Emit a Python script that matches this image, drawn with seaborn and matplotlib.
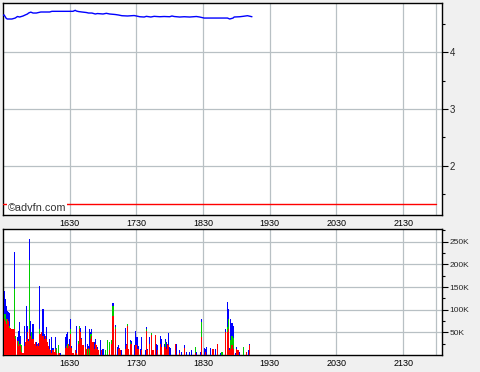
import numpy as np
import pandas as pd
import matplotlib
matplotlib.use("Agg")
import matplotlib.pyplot as plt
import seaborn as sns

# ---- data (time axis in minutes after 15:30) ----
tick_minutes = [60, 120, 180, 240, 300, 360]
tick_labels = ["1630", "1730", "1830", "1930", "2030", "2130"]
session_close = 390  # 22:00

price_minute = [0, 1, 3, 4, 8, 11, 13, 15, 18, 20, 22, 23, 25, 27, 30, 32, 34, 42, 44,
                60, 63, 65, 66, 68, 71, 75, 77, 80, 83, 85, 90, 93, 96, 101, 104, 107,
                112, 118, 120, 123, 127, 129, 133, 136, 141, 145, 150, 152, 154, 159,
                163, 168, 174, 177, 181, 190, 202, 204, 207, 208, 213, 216, 220, 224]
price_value = [4.644, 4.650, 4.588, 4.579, 4.579, 4.596, 4.623, 4.614, 4.632, 4.650,
               4.667, 4.684, 4.700, 4.684, 4.684, 4.693, 4.702, 4.702, 4.714,
               4.714, 4.714, 4.732, 4.719, 4.710, 4.702, 4.693, 4.684, 4.684, 4.667,
               4.675, 4.667, 4.679, 4.667, 4.658, 4.649, 4.637, 4.632, 4.640, 4.632,
               4.619, 4.614, 4.626, 4.614, 4.626, 4.619, 4.623, 4.619, 4.632, 4.623,
               4.614, 4.619, 4.614, 4.623, 4.614, 4.596, 4.596, 4.596, 4.579, 4.596,
               4.614, 4.619, 4.626, 4.637, 4.619]
ref_level = 1.33

vol_minute = [1, 2, 3, 4, 5, 6, 7, 8, 9, 10, 11, 13, 14, 15, 16, 17, 18, 19, 20, 21,
              22, 23, 24, 25, 26, 27, 28, 29, 30, 31, 32, 33, 34, 35, 36, 37, 38, 39,
              40, 41, 42, 43, 44, 45, 46, 47, 48, 50, 51, 52, 56, 57, 58, 59, 60, 61,
              62, 63, 65, 66, 68, 69, 70, 71, 72, 74, 75, 76, 77, 78, 79, 80, 81, 82,
              83, 84, 85, 86, 88, 89, 90, 92, 94, 96, 98, 99, 101, 103, 104, 105, 106,
              107, 110, 111, 112, 113, 115, 116, 118, 119, 120, 121, 122, 124, 125,
              128, 129, 130, 132, 134, 135, 137, 138, 139, 142, 143, 145, 146, 147,
              148, 149, 150, 151, 155, 156, 159, 161, 163, 165, 168, 170, 173, 174,
              178, 179, 181, 182, 183, 187, 189, 191, 193, 196, 197, 200, 202, 203,
              204, 205, 206, 207, 209, 210, 211, 212, 213, 216, 219, 221, 222]
vol_red = [80, 75, 69, 80, 75, 60, 60, 58, 58, 58, 36, 30, 20, 25, 20, 6, 5, 20, 28, 35,
           50, 30, 58, 42, 36, 36, 25, 28, 20, 24, 20, 47, 47, 50, 43, 36, 43, 36,
           28, 20, 14, 10, 5, 10, 6, 14, 5, 5, 5, 0, 15, 20, 15, 25, 20, 47,
           15, 5, 10, 5, 25, 58, 51, 36, 21, 17, 13, 0, 15, 0, 36, 43, 29, 13,
           25, 21, 13, 10, 0, 10, 0, 0, 0, 10, 25, 87, 58, 0, 13, 15, 12,
           0, 13, 21, 65, 13, 25, 25, 0, 21, 21, 14, 13, 0, 10,
           0, 54, 10, 25, 45, 10, 45, 0, 10, 25, 17, 17, 17, 13,
           25, 21, 0, 0, 25, 0, 5, 0, 15, 0, 0, 0, 5, 0,
           0, 40, 0, 7, 0, 0, 13, 0, 25, 0, 0, 51, 51, 58,
           10, 13, 21, 13, 0, 13, 10, 10, 0, 0, 7, 0, 23]
vol_green = [10, 15, 10, 0, 0, 5, 0, 0, 0, 88, 5, 0, 10, 0, 5, 15, 0, 0, 0, 0,
             0, 0, 151, 0, 14, 0, 0, 0, 0, 0, 0, 10, 0, 0, 0, 0, 0, 0,
             0, 0, 0, 0, 0, 0, 0, 0, 10, 18, 0, 0, 0, 0, 10, 0, 0, 11,
             0, 0, 0, 0, 5, 5, 0, 0, 0, 0, 0, 13, 0, 13, 11, 4, 0, 0,
             0, 0, 0, 0, 0, 0, 0, 10, 32, 19, 7, 22, 4, 0, 0, 0, 0,
             0, 0, 0, 4, 0, 4, 0, 0, 0, 0, 0, 0, 0, 0,
             0, 4, 0, 0, 4, 0, 0, 0, 0, 0, 0, 0, 12, 0,
             0, 0, 0, 0, 0, 0, 0, 0, 0, 0, 0, 0, 13, 0,
             0, 33, 0, 0, 0, 0, 0, 0, 0, 0, 6, 0, 10, 22,
             0, 20, 22, 25, 0, 0, 0, 0, 0, 17, 0, 0, 0]
vol_blue = [52, 33, 30, 18, 20, 28, 0, 0, 0, 82, 0, 10, 24, 48, 18, 0, 0, 45, 0, 74,
            15, 6, 46, 34, 0, 33, 0, 0, 8, 0, 6, 96, 0, 0, 59, 10, 0, 26,
            0, 0, 22, 0, 35, 5, 0, 26, 0, 0, 0, 5, 25, 27, 26, 0, 16, 21,
            5, 0, 0, 59, 0, 0, 9, 2, 0, 48, 0, 12, 4, 45, 4, 11, 0, 16,
            11, 0, 4, 0, 32, 0, 13, 0, 0, 0, 0, 6, 5, 17, 8, 0, 0,
            10, 47, 4, 0, 0, 4, 5, 21, 31, 19, 26, 7, 13, 30,
            12, 4, 4, 15, 0, 0, 0, 25, 13, 18, 19, 8, 7, 16,
            0, 28, 17, 15, 0, 25, 7, 7, 6, 7, 7, 10, 0, 6,
            7, 7, 15, 6, 17, 15, 0, 13, 0, 5, 0, 7, 57, 22,
            5, 47, 28, 27, 5, 4, 2, 0, 6, 0, 0, 10, 2]

vol_ticks = [50, 100, 150, 200, 250]
vol_tick_labels = ["50K", "100K", "150K", "200K", "250K"]

# ---- long tables ----
price_df = pd.DataFrame({"minute": price_minute, "price": price_value})
ref_df = pd.DataFrame({"minute": [0, session_close], "price": [ref_level, ref_level]})
vol_df = pd.concat([
    pd.DataFrame({"minute": vol_minute, "vol": vol_red, "side": "red"}),
    pd.DataFrame({"minute": vol_minute, "vol": vol_green, "side": "green"}),
    pd.DataFrame({"minute": vol_minute, "vol": vol_blue, "side": "blue"}),
], ignore_index=True)
vol_df = vol_df[vol_df["vol"] > 0]

sns.set_theme(style="white")
plt.rcParams["font.family"] = ["Liberation Sans", "DejaVu Sans"]

bg = "#f0f0f0"
fig = plt.figure(figsize=(4.8, 3.72), dpi=100, facecolor=bg)
ax1 = fig.add_axes([3 / 480, 1 - 215 / 372, 439 / 480, 212 / 372])
ax2 = fig.add_axes([3 / 480, 1 - 355 / 372, 439 / 480, 126 / 372])

xlim = (0, 395)
grid_kw = dict(color="#b8c0c4", linewidth=0.9, linestyle="-")

for ax in (ax1, ax2):
    ax.set_facecolor("white")
    ax.set_xlim(*xlim)
    ax.set_xticks(tick_minutes + [session_close])
    ax.set_xticklabels(tick_labels + [""], fontsize=6.5, color="black")
    ax.tick_params(axis="x", length=0, pad=3)
    ax.yaxis.tick_right()
    ax.tick_params(axis="y", which="major", direction="out", length=4, width=0.8,
                   color="black", pad=1.5, left=False, right=True)
    ax.tick_params(axis="y", which="minor", direction="out", length=2, width=0.8,
                   color="black", left=False, right=True)
    ax.grid(True, which="major", **grid_kw)
    ax.set_axisbelow(True)
    for s in ax.spines.values():
        s.set_color("black")
        s.set_linewidth(1)
        s.set_visible(True)

# ---- price panel ----
sns.lineplot(data=price_df, x="minute", y="price", ax=ax1, color="#0000ff",
             linewidth=1, estimator=None, zorder=3)
sns.lineplot(data=ref_df, x="minute", y="price", ax=ax1, color="#ff0000",
             linewidth=1, estimator=None, zorder=3)
ax1.set_ylim(1.14, 4.86)
ax1.set_yticks([2, 3, 4])
ax1.set_yticklabels(["2", "3", "4"], fontsize=7)
ax1.set_yticks([1.5, 2.5, 3.5, 4.5], minor=True)
ax1.set_xlabel("")
ax1.set_ylabel("")
ax1.text(4, 1.21, "\u00a9advfn.com", fontsize=7.8, color="#333333", zorder=5,
         bbox=dict(facecolor="white", edgecolor="none", pad=0.5))

# ---- volume panel ----
sns.histplot(data=vol_df, x="minute", weights="vol", hue="side",
             hue_order=["blue", "green", "red"], multiple="stack", discrete=True,
             palette={"red": "#ff0000", "green": "#00cc00", "blue": "#0000ff"},
             shrink=1, linewidth=0, alpha=1, legend=False, ax=ax2, zorder=3)
ax2.set_xlim(*xlim)
ax2.set_ylim(0, 278)
ax2.set_yticks(vol_ticks)
ax2.set_yticklabels(vol_tick_labels, fontsize=6)
ax2.set_yticks([25, 75, 125, 175, 225, 275], minor=True)
ax2.set_xlabel("")
ax2.set_ylabel("")

fig.savefig("out.png", dpi=100, facecolor=bg)
